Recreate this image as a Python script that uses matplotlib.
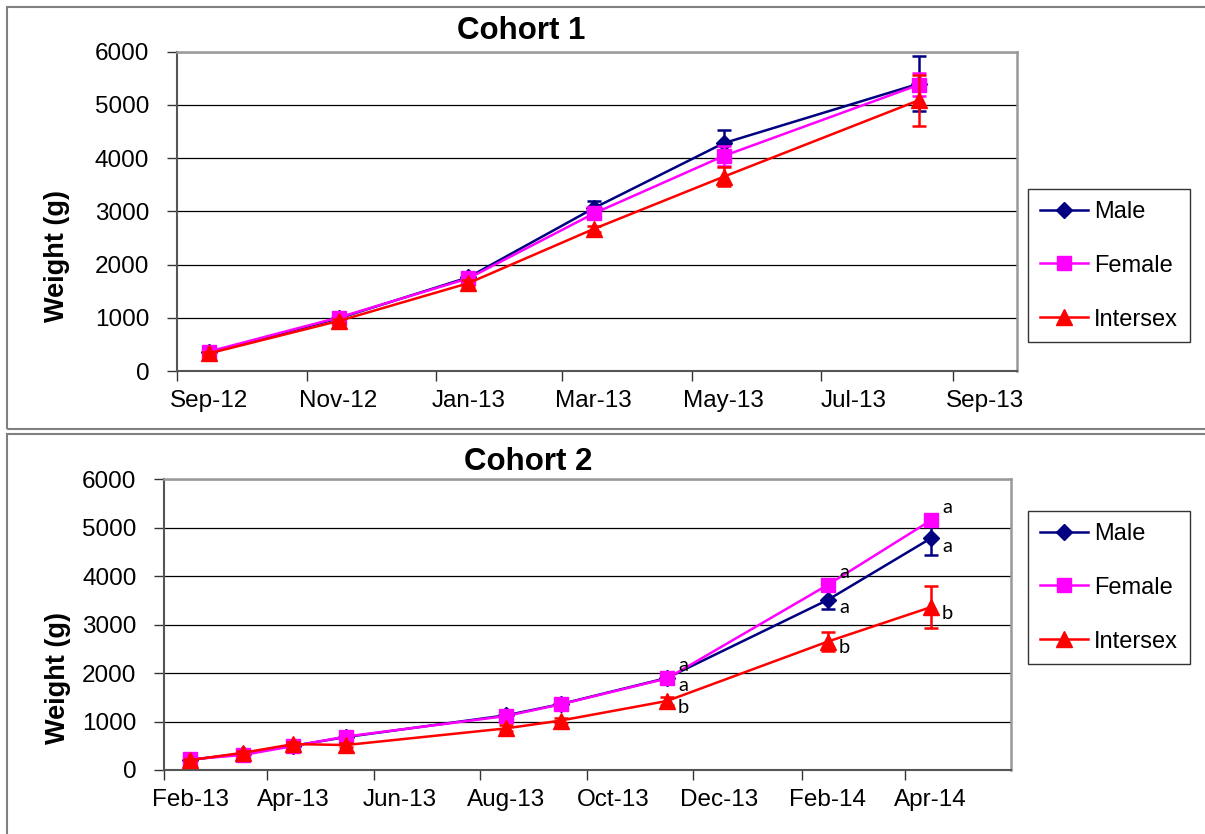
import numpy as np
import pandas as pd
import matplotlib
matplotlib.use('Agg')
import matplotlib.pyplot as plt
import matplotlib.dates as mdates
from matplotlib.patches import Rectangle
from datetime import datetime, timedelta

plt.rcParams['font.family'] = ['Liberation Sans', 'DejaVu Sans']

# ---- Cohort 1 ----
c1_dates = ['2012-09-16', '2012-11-16', '2013-01-16', '2013-03-16', '2013-05-16', '2013-08-16']
c1_male = [350, 990, 1760, 3060, 4280, 5400]
c1_male_err = [30, 40, 60, 140, 250, 510]
c1_female = [365, 1005, 1740, 2960, 4040, 5380]
c1_female_err = [30, 40, 60, 100, 190, 215]
c1_inter = [330, 940, 1650, 2670, 3650, 5090]
c1_inter_err = [30, 40, 60, 60, 175, 480]
c1_ticks = ['Sep-12', 'Nov-12', 'Jan-13', 'Mar-13', 'May-13', 'Jul-13', 'Sep-13']
c1_xlim = ['2012-09-01', '2013-10-01']

# ---- Cohort 2 ----
c2_dates = ['2013-02-16', '2013-03-18', '2013-04-16', '2013-05-16', '2013-08-16',
            '2013-09-16', '2013-11-16', '2014-02-16', '2014-04-16']
c2_male = [210, 340, 500, 680, 1130, 1360, 1900, 3510, 4780]
c2_male_err = [20, 30, 40, 40, 60, 60, 60, 190, 345]
c2_female = [220, 310, 495, 690, 1115, 1355, 1890, 3820, 5150]
c2_female_err = [20, 30, 40, 40, 50, 60, 60, 80, 110]
c2_inter = [205, 355, 535, 515, 860, 1020, 1425, 2650, 3360]
c2_inter_err = [20, 30, 40, 40, 60, 60, 80, 195, 435]
c2_ticks = ['Feb-13', 'Apr-13', 'Jun-13', 'Aug-13', 'Oct-13', 'Dec-13', 'Feb-14', 'Apr-14']
c2_xlim = ['2013-02-01', '2014-06-01']

# significance letters (last three sampling dates of cohort 2)
c2_letters_male = ['', '', '', '', '', '', 'a', 'a', 'a']
c2_letters_female = ['', '', '', '', '', '', 'a', 'a', 'a']
c2_letters_inter = ['', '', '', '', '', '', 'b', 'b', 'b']

series_names = ['Male', 'Female', 'Intersex']
colors = ['#000080', '#FF00FF', '#FF0000']
markers = ['D', 's', '^']
msizes = [8.5, 10.5, 11.5]

fig = plt.figure(figsize=(12.05, 8.34), dpi=100)
W, H = 1205., 834.

# panel frames
fig.add_artist(Rectangle((7 / W, 1 - 428.5 / H), 1.0, 422 / H, transform=fig.transFigure,
                         fill=False, ec='#808080', lw=1.5))
fig.add_artist(Rectangle((7 / W, -0.05), 1.0, (1 - 434 / H) + 0.05, transform=fig.transFigure,
                         fill=False, ec='#808080', lw=1.5))


def make_panel(rect, dates, vals, errs, ticks, xlim, title, title_xy, ylab_xy, leg_xy, letters=None):
    ax = fig.add_axes(rect)
    d = pd.to_datetime(dates)
    handles = []
    for i in range(3):
        ax.errorbar(d, vals[i], yerr=errs[i], fmt='none', ecolor=colors[i], elinewidth=1.8,
                    capsize=5, capthick=1.8, zorder=3 + i)
        ln, = ax.plot(d, vals[i], color=colors[i], marker=markers[i], markersize=msizes[i],
                      lw=1.8, label=series_names[i], zorder=3 + i)
        handles.append(ln)

    if letters is not None:
        dy = [-5.5, 9, -4.5]
        for i in range(3):
            for x, y, t in zip(d, vals[i], letters[i]):
                if t:
                    ax.annotate(t, (mdates.date2num(x), y), xytext=(12, dy[i]), textcoords='offset points',
                                ha='center', va='center', fontsize=14.5, family='Lato', zorder=10)

    tick_dates = [datetime.strptime(t, '%b-%y') for t in ticks]
    ax.set_xticks(tick_dates)
    ax.set_xticklabels([])
    ax.set_xticks([t + timedelta(days=15) for t in tick_dates], minor=True)
    ax.set_xticklabels(ticks, minor=True)
    ax.tick_params(axis='x', which='major', length=7, width=1, color='#333333', direction='out')
    ax.tick_params(axis='x', which='minor', length=0, pad=14, labelsize=17.5)
    ax.set_xlim(pd.to_datetime(xlim[0]), pd.to_datetime(xlim[1]))

    ax.set_ylim(0, 6000)
    ax.set_yticks(np.arange(0, 6001, 1000))
    ax.tick_params(axis='y', length=7, width=1, color='#333333', pad=13, labelsize=17.5)
    ax.yaxis.grid(True, color='black', lw=0.9)
    ax.set_axisbelow(True)
    for s in ['left', 'bottom']:
        ax.spines[s].set_color('#555555')
        ax.spines[s].set_linewidth(1.5)
    for s in ['top', 'right']:
        ax.spines[s].set_color('#999999')
        ax.spines[s].set_linewidth(1.8)

    fig.text(title_xy[0] / W, 1 - title_xy[1] / H, title, ha='center', va='center',
             fontsize=22.5, fontweight='bold')
    fig.text(ylab_xy[0] / W, 1 - ylab_xy[1] / H, 'Weight (g)', ha='center', va='center',
             rotation=90, fontsize=19.5, fontweight='bold')

    leg = ax.legend(handles=handles, loc='upper left', bbox_to_anchor=(leg_xy[0] / W, 1 - leg_xy[1] / H),
                    bbox_transform=fig.transFigure, fontsize=17, numpoints=1, frameon=True,
                    fancybox=False, edgecolor='black', borderpad=0.5, labelspacing=1.35,
                    handlelength=2.05, handletextpad=0.25, borderaxespad=0)
    leg.get_frame().set_linewidth(1.0)
    return ax


ax1 = make_panel([177 / W, 1 - 371 / H, (1017 - 177) / W, (371 - 51.7) / H],
                 c1_dates, [c1_male, c1_female, c1_inter], [c1_male_err, c1_female_err, c1_inter_err],
                 c1_ticks, c1_xlim, 'Cohort 1', (521, 31), (57, 256), (1028, 189))

ax2 = make_panel([164.3 / W, 1 - 770 / H, (1011 - 164.3) / W, (770 - 479.3) / H],
                 c2_dates, [c2_male, c2_female, c2_inter], [c2_male_err, c2_female_err, c2_inter_err],
                 c2_ticks, c2_xlim, 'Cohort 2', (528, 462), (58, 678), (1028, 511),
                 letters=[c2_letters_male, c2_letters_female, c2_letters_inter])

plt.savefig('out.png', dpi=100)
